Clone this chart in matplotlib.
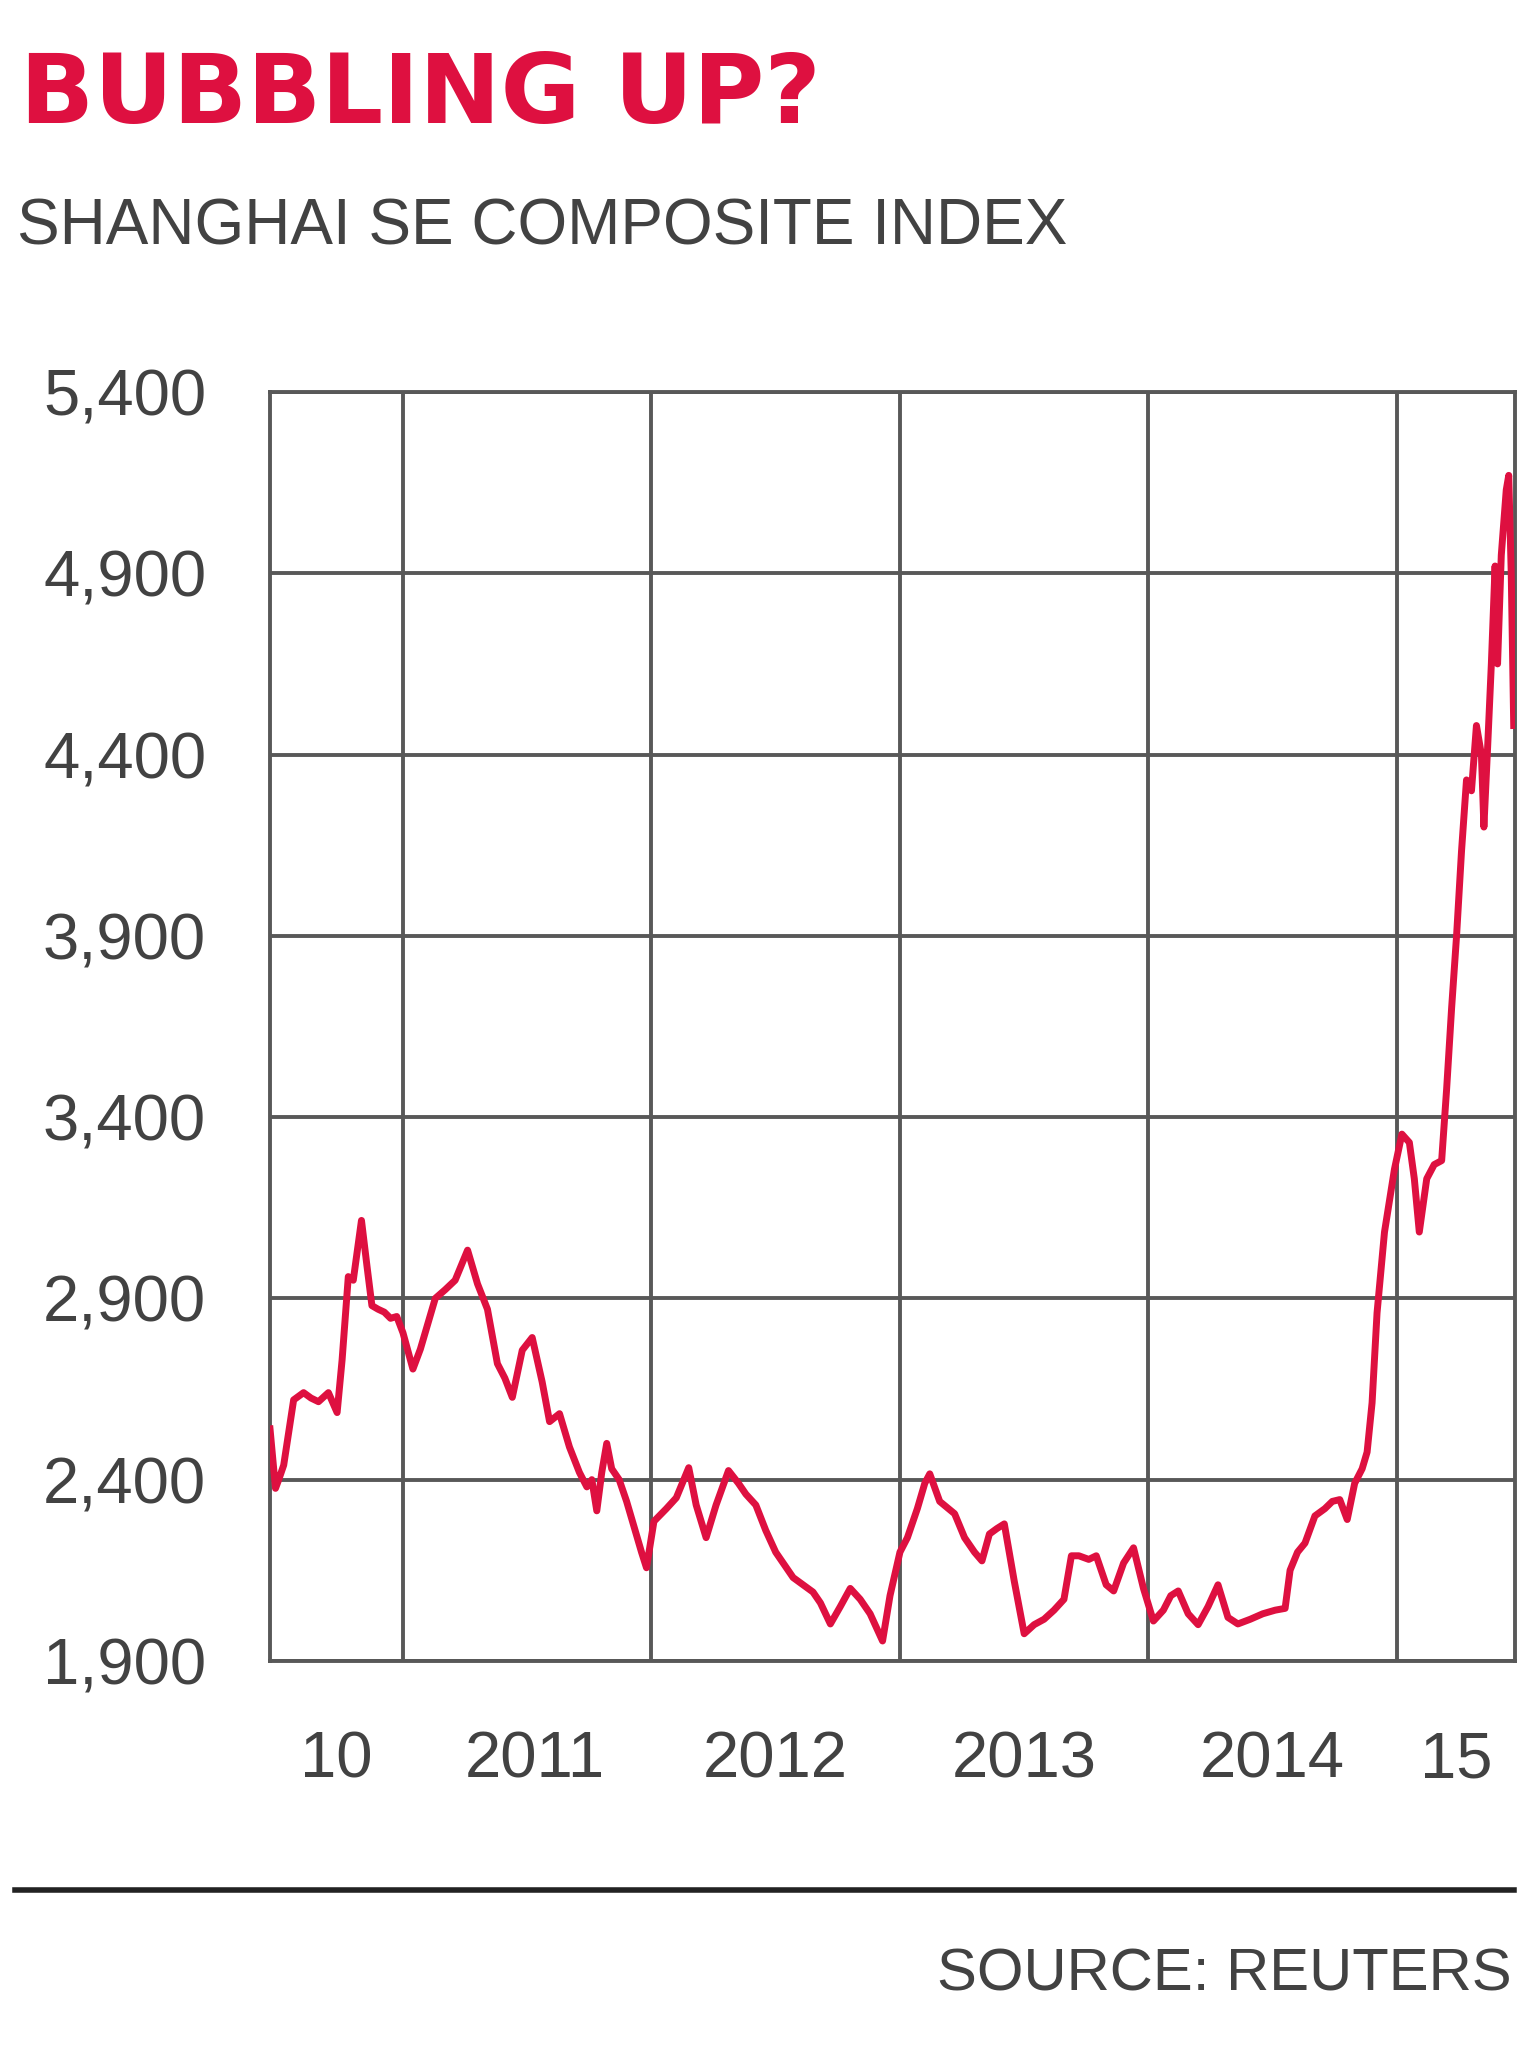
import matplotlib
matplotlib.use('Agg')
import matplotlib.pyplot as plt
import numpy as np

# colours
colors = {
    'red': '#DE1040',
    'ink': '#424242',
    'grid': '#585858',
    'rule': '#222222',
}

# no condensed face is installed, Liberation Sans is the narrowest one at hand
narrow = ['Liberation Sans', 'DejaVu Sans']

# Shanghai SE composite index, decimal year vs. index level
dates = [
    2010.465, 2010.487, 2010.50, 2010.52, 2010.56, 2010.60, 2010.63, 2010.66, 2010.70, 2010.735,
    2010.755, 2010.78, 2010.80, 2010.833, 2010.855, 2010.875, 2010.90, 2010.925, 2010.95, 2010.975,
    2011.00, 2011.04, 2011.07, 2011.10, 2011.13, 2011.17, 2011.21, 2011.26, 2011.30, 2011.34,
    2011.38, 2011.41, 2011.44, 2011.48, 2011.52, 2011.56, 2011.59, 2011.63, 2011.67, 2011.71,
    2011.74, 2011.76, 2011.78, 2011.80, 2011.82, 2011.84, 2011.87, 2011.90, 2011.93, 2011.96,
    2011.98, 2012.01, 2012.06, 2012.10, 2012.15, 2012.18, 2012.22, 2012.26, 2012.31, 2012.35,
    2012.38, 2012.42, 2012.46, 2012.50, 2012.54, 2012.57, 2012.61, 2012.65, 2012.68, 2012.72,
    2012.76, 2012.80, 2012.84, 2012.88, 2012.93, 2012.96, 2013.00, 2013.03, 2013.07, 2013.10,
    2013.12, 2013.16, 2013.22, 2013.26, 2013.30, 2013.33, 2013.36, 2013.39, 2013.42, 2013.46,
    2013.50, 2013.54, 2013.58, 2013.62, 2013.66, 2013.69, 2013.72, 2013.76, 2013.79, 2013.83,
    2013.86, 2013.90, 2013.94, 2013.98, 2014.02, 2014.06, 2014.09, 2014.12, 2014.16, 2014.20,
    2014.24, 2014.28, 2014.32, 2014.36, 2014.41, 2014.46, 2014.51, 2014.55, 2014.57, 2014.60,
    2014.63, 2014.67, 2014.71, 2014.74, 2014.77, 2014.80, 2014.83, 2014.86, 2014.88, 2014.90,
    2014.92, 2014.95, 2014.99, 2015.02, 2015.05, 2015.07, 2015.09, 2015.12, 2015.15, 2015.18,
    2015.20, 2015.22, 2015.24, 2015.26, 2015.28, 2015.30, 2015.32, 2015.34, 2015.35, 2015.365,
    2015.38, 2015.395, 2015.405, 2015.42, 2015.44, 2015.45, 2015.46, 2015.47,
]
index_level = [
    2540, 2376, 2400, 2440, 2620, 2640, 2625, 2615, 2640, 2585,
    2730, 2960, 2950, 3115, 2990, 2880, 2870, 2862, 2845, 2850,
    2805, 2705, 2760, 2830, 2900, 2924, 2950, 3033, 2940, 2870,
    2720, 2680, 2627, 2757, 2792, 2670, 2560, 2582, 2490, 2420,
    2380, 2400, 2314, 2420, 2500, 2430, 2400, 2340, 2270, 2200,
    2157, 2285, 2320, 2350, 2433, 2330, 2240, 2330, 2425, 2390,
    2360, 2330, 2260, 2200, 2160, 2130, 2110, 2090, 2060, 2002,
    2050, 2100, 2070, 2030, 1955, 2080, 2200, 2240, 2320, 2390,
    2416, 2340, 2306, 2240, 2200, 2176, 2250, 2265, 2278, 2120,
    1975, 2000, 2015, 2040, 2070, 2190, 2190, 2180, 2190, 2110,
    2093, 2170, 2212, 2100, 2010, 2040, 2080, 2093, 2030, 2000,
    2050, 2110, 2020, 2002, 2015, 2030, 2040, 2045, 2150, 2200,
    2225, 2300, 2320, 2340, 2345, 2290, 2390, 2430, 2476, 2612,
    2860, 3083, 3256, 3353, 3330, 3230, 3083, 3230, 3269, 3280,
    3477, 3700, 3900, 4134, 4330, 4300, 4480, 4400, 4200, 4420,
    4650, 4920, 4650, 4950, 5130, 5170, 4900, 4480,
]

y_ticks = [1900, 2400, 2900, 3400, 3900, 4400, 4900, 5400]
year_lines = [2011, 2012, 2013, 2014, 2015]
year_label_pos = [2010.73, 2011.53, 2012.5, 2013.5, 2014.5, 2015.24]
year_labels = ['10', '2011', '2012', '2013', '2014', '15']

fig = plt.figure(figsize=(15.36, 20.48), dpi=100)
fig.patch.set_facecolor('white')
ax = fig.add_axes([0.1758, 0.189, 0.8105, 0.6196])

ax.plot(dates, index_level, color=colors['red'], lw=5, solid_joinstyle='round', zorder=3)

ax.set_xlim(2010.465, 2015.475)
ax.set_ylim(1900, 5400)

ax.set_yticks(y_ticks)
ax.set_yticklabels([f'{v:,}' for v in y_ticks], family=narrow, fontsize=47, color=colors['ink'])
ax.set_xticks(year_lines)
ax.set_xticklabels([])
ax.set_xticks(year_label_pos, minor=True)
ax.set_xticklabels(year_labels, minor=True, family=narrow, fontsize=47, color=colors['ink'])
ax.tick_params(axis='both', which='both', length=0)
ax.tick_params(axis='y', pad=46)
ax.tick_params(axis='x', which='minor', pad=50)

ax.grid(True, which='major', color=colors['grid'], lw=2.8)
for s in ax.spines.values():
    s.set_color(colors['grid'])
    s.set_linewidth(2.8)

fig.text(0.013, 0.953, 'BUBBLING UP?', color=colors['red'], fontsize=70,
         fontweight='bold', family='DejaVu Sans', ha='left', va='center')
fig.text(0.011, 0.889, 'SHANGHAI SE COMPOSITE INDEX', color=colors['ink'], fontsize=46,
         family=narrow, ha='left', va='center')

fig.add_artist(plt.Line2D([0.010, 0.986], [0.077, 0.077], color=colors['rule'], lw=4,
                          transform=fig.transFigure))
fig.text(0.984, 0.0356, 'SOURCE: REUTERS', color=colors['ink'], fontsize=43,
         family=narrow, ha='right', va='center')

fig.savefig('out.png', dpi=100, facecolor='white')
